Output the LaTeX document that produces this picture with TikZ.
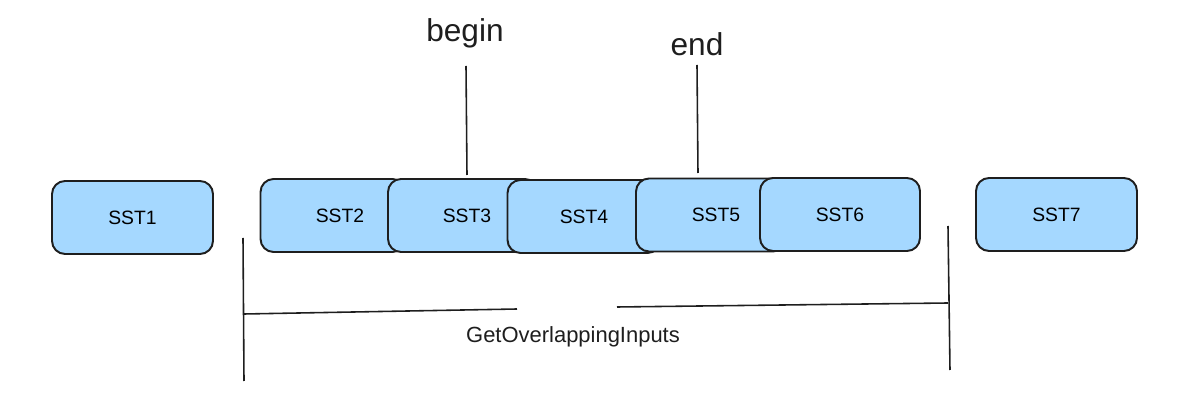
\documentclass[tikz,border=0pt]{standalone}
\usepackage{fontspec}
\setmainfont{Liberation Sans}

\definecolor{sstblue}{HTML}{A5D8FF}
\definecolor{inkline}{HTML}{1E1E1E}

\tikzset{
  sstbox/.style={draw=inkline, fill=sstblue, line width=1.1pt, rounded corners=0.26cm,
    minimum height=1.46cm, font=\fontsize{11}{13}\selectfont},
  marklbl/.style={font=\fontsize{18}{21}\selectfont, text=inkline},
  bracket/.style={draw=inkline, line width=0.9pt}
}

\begin{document}
\begin{tikzpicture}[x=0.02cm,y=-0.02cm]
\useasboundingbox (0,0) rectangle (1178,415);

% Draw the sst files, later ones on top
\node[sstbox, minimum width=3.22cm] (sst1) at (132.5,217.5) {SST1};
\node[sstbox, minimum width=2.9cm] (sst2) at (333,215.5) {\hspace{0.28cm}SST2};
\node[sstbox, minimum width=3cm] (sst3) at (463,215.5) {\hspace{0.16cm}SST3};
\node[sstbox, minimum width=3.06cm] (sst4) at (584,216.5) {SST4};
\node[sstbox, minimum width=3cm] (sst5) at (711,215) {\hspace{0.2cm}SST5};
\node[sstbox, minimum width=3.2cm] (sst6) at (840,214.5) {SST6};
\node[sstbox, minimum width=3.22cm] (sst7) at (1056.5,214.5) {SST7};

% Draw and label the begin marker
\node[marklbl] (beginlbl) at (465,33) {begin};
\coordinate (begintop) at (466,66);
\coordinate (beginbot) at (467,175);
\draw[bracket] (begintop) -- (beginbot);

% Draw and label the end marker
\node[marklbl] (endlbl) at (697,44) {end};
\coordinate (endtop) at (697,65);
\coordinate (endbot) at (698,173);
\draw[bracket] (endtop) -- (endbot);

% Draw the range bracket
\coordinate (lefttop) at (243,238);
\coordinate (leftbot) at (244,381);
\coordinate (leftmid) at (244,314);
\coordinate (gapl) at (517,309);
\coordinate (gapr) at (617,307);
\coordinate (rightmid) at (948,303);
\coordinate (righttop) at (948,226);
\coordinate (rightbot) at (950,370);
\draw[bracket] (lefttop) -- (leftbot);
\draw[bracket] (righttop) -- (rightbot);
\draw[bracket] (leftmid) -- (gapl);
\draw[bracket] (gapr) -- (rightmid);
\node[font=\fontsize{12.5}{14}\selectfont, text=inkline] (rangelbl) at (573,337) {GetOverlappingInputs};

\end{tikzpicture}
\end{document}
